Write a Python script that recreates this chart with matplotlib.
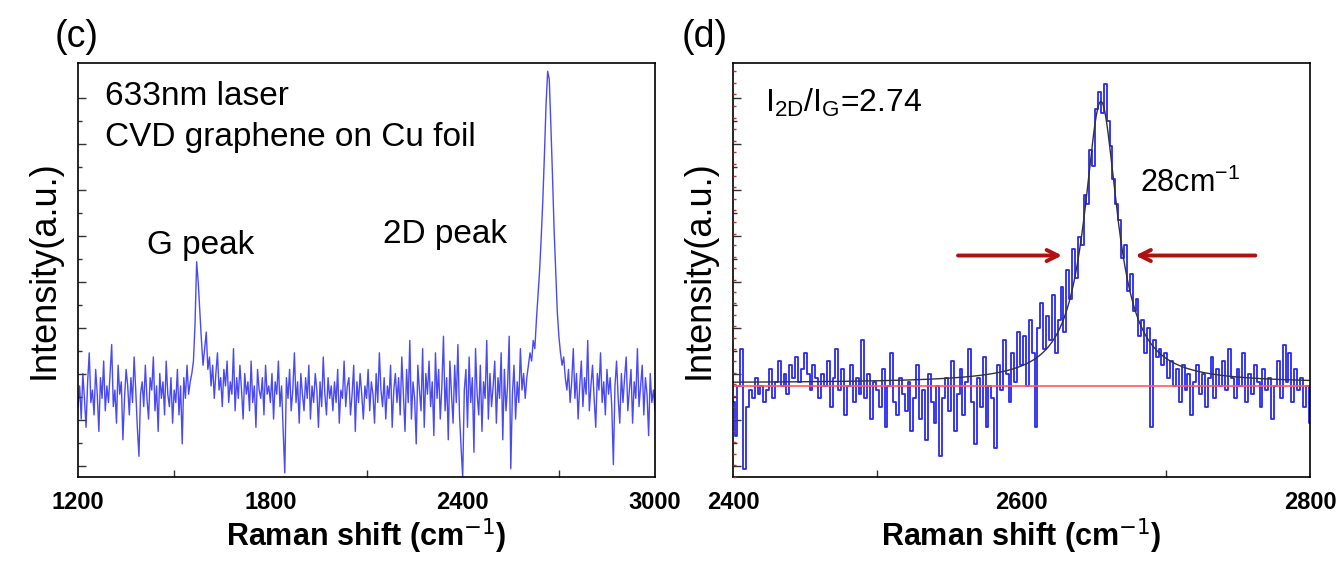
import numpy as np
import matplotlib.pyplot as plt
from matplotlib.ticker import FixedLocator, NullFormatter

plt.rcParams["font.family"] = ["Liberation Sans", "DejaVu Sans"]

# (c) full spectrum, 1200-3000 cm-1, 5 cm-1 step (arbitrary units, 0-100)
c_start, c_step = 1200, 5
c_int = [
    17, 22, 14, 25, 19, 12, 23, 30, 18, 21, 15, 26, 20, 11, 24, 19, 28, 16, 22, 18,
    25, 32, 17, 21, 13, 27, 20, 23, 9, 19, 26, 22, 15, 24, 18, 29, 21, 12, 5, 20,
    23, 17, 27, 19, 14, 24, 21, 29, 16, 22, 11, 25, 19, 23, 15, 28, 20, 17, 24, 13,
    21, 18, 26, 15, 22, 8, 24, 19, 27, 20, 23, 25, 28, 37, 52, 47, 40, 33, 27, 31,
    35, 26, 29, 22, 27, 19, 25, 30, 21, 24, 17, 26, 22, 28, 18, 23, 20, 31, 16, 24,
    19, 27, 21, 14, 25, 20, 23, 16, 28, 18, 22, 12, 26, 21, 19, 24, 15, 27, 20, 22,
    18, 25, 14, 23, 20, 28, 17, 22, 11, 1, 24, 19, 26, 16, 21, 30, 18, 23, 13, 25,
    20, 16, 24, 19, 27, 14, 22, 18, 25, 21, 12, 23, 17, 29, 20, 15, 24, 19, 22, 16,
    23, 18, 26, 13, 21, 19, 28, 17, 22, 24, 15, 20, 27, 11, 23, 18, 25, 20, 14, 22,
    19, 26, 16, 23, 20, 13, 25, 18, 30, 21, 17, 24, 14, 22, 19, 27, 12, 21, 25, 18,
    24, 15, 29, 20, 11, 26, 18, 33, 14, 23, 19, 8, 27, 21, 16, 31, 12, 25, 20, 28,
    17, 23, 10, 30, 19, 26, 14, 22, 34, 16, 24, 9, 28, 20, 13, 27, 18, 32, 15, 7,
    0, 21, 26, 12, 29, 18, 24, 6, 31, 20, 15, 27, 11, 23, 19, 33, 14, 25, 17, 22,
    28, 13, 24, 19, 30, 9, 26, 16, 22, 34, 2, 20, 27, 14, 23, 18, 31, 21, 25, 19,
    24, 27, 30, 28, 33, 31, 38, 44, 50, 58, 67, 78, 90, 98, 96, 85, 73, 60, 50, 40,
    34, 30, 27, 29, 24, 21, 26, 18, 23, 31, 19, 25, 14, 22, 28, 17, 24, 20, 33, 16,
    22, 27, 19, 12, 25, 21, 30, 18, 23, 15, 26, 20, 24, 17, 3, 22, 28, 19, 13, 25,
    18, 24, 29, 16, 21, 26, 13, 23, 19, 31, 17, 22, 27, 15, 24, 20, 10, 25, 18, 21,
    16,
]

# (d) 2D band region, 2400-2800 cm-1, 2 cm-1 step
d_start, d_step = 2400, 2
d_int = [
    18, 10, 22, 31, 2, 17, 21, 19, 24, 20,
    22, 18, 21, 26, 19, 23, 28, 22, 25, 20,
    27, 24, 29, 23, 26, 30, 25, 21, 27, 24,
    19, 25, 22, 28, 17, 24, 31, 21, 26, 15,
    22, 27, 18, 24, 20, 33, 19, 25, 14, 23,
    21, 17, 26, 12, 22, 30, 18, 15, 24, 20,
    16, 23, 11, 19, 27, 14, 21, 9, 25, 18,
    13, 22, 5, 19, 24, 16, 28, 11, 20, 26,
    15, 23, 31, 18, 8, 24, 17, 29, 12, 22,
    19, 7, 27, 21, 33, 25, 18, 30, 23, 35,
    27, 34, 22, 38, 30, 12, 36, 42, 31, 39,
    33, 44, 30, 38, 46, 35, 50, 43, 55, 48,
    58, 56, 68, 66, 79, 75, 89, 93, 88, 95,
    86, 80, 72, 66, 62, 53, 56, 45, 49, 40,
    43, 34, 38, 30, 36, 12, 33, 29, 31, 27,
    30, 24, 28, 22, 26, 18, 27, 21, 25, 15,
    23, 27, 20, 25, 17, 24, 29, 19, 26, 22,
    28, 21, 31, 24, 19, 26, 22, 30, 18, 25,
    20, 27, 23, 17, 26, 21, 24, 14, 22, 28,
    19, 32, 23, 30, 18, 26, 21, 24, 17, 22,
    13,
]

# Lorentzian fit of the 2D band
fit_center = 2655
fit_fwhm = 28
fit_amp = 68
fit_base = 22.7
red_base = 22

c_x = c_start + c_step * np.arange(len(c_int))
d_x = d_start + d_step * np.arange(len(d_int))

fig = plt.figure(figsize=(13.36, 5.67), dpi=100)
ax1 = fig.add_axes([0.0584, 0.1587, 0.4319, 0.7302])
ax2 = fig.add_axes([0.5487, 0.1587, 0.4319, 0.7302])

blue = "#2a2af0"

ax1.plot(c_x, c_int, color=blue, lw=1.0, alpha=0.85)
ax2.plot(d_x, d_int, color=blue, lw=1.3, drawstyle="steps-mid")

xf = np.linspace(2400, 2800, 800)
fit = fit_base + fit_amp / (1 + ((xf - fit_center) / (fit_fwhm / 2)) ** 2)
ax2.axhline(red_base, color="#ff5a5a", lw=1.2)
ax2.plot(xf, fit, color="#333333", lw=1.0)

ytick_major = np.arange(2.7, 100, 11.1)
ytick_minor = ytick_major[:-1] + 5.55

for ax in (ax1, ax2):
    ax.set_ylim(0, 100)
    ax.yaxis.set_major_locator(FixedLocator(ytick_major))
    ax.yaxis.set_minor_locator(FixedLocator(ytick_minor))
    ax.yaxis.set_major_formatter(NullFormatter())
    ax.tick_params(axis="both", which="both", direction="in", color="#333333")
    ax.tick_params(axis="y", which="major", length=6, width=1)
    ax.tick_params(axis="y", which="minor", length=3, width=1)
    ax.tick_params(axis="x", which="major", length=0, pad=10, labelsize=17)
    ax.tick_params(axis="x", which="minor", length=5, width=1)
    for s in ax.spines.values():
        s.set_linewidth(1.2)
    ax.set_xlabel("Raman shift (cm$^{-1}$)", fontsize=22, fontweight="bold", labelpad=2)
    ax.set_ylabel("Intensity(a.u.)", fontsize=26, labelpad=8)

ax1.set_xlim(1200, 3000)
ax1.set_xticks([1200, 1800, 2400, 3000])
ax1.set_xticks([1500, 2100, 2700], minor=True)
ax2.set_xlim(2400, 2800)
ax2.set_xticks([2400, 2600, 2800])
ax2.set_xticks([2500, 2700], minor=True)
for ax in (ax1, ax2):
    for lab in ax.get_xticklabels():
        lab.set_fontweight("bold")

# dense red marks along the left spine of (d)
ax2r = ax2.twinx()
ax2r.set_ylim(0, 100)
ax2r.yaxis.tick_left()
ax2r.set_yticks(np.arange(0, 100, 2.8))
ax2r.yaxis.set_major_formatter(NullFormatter())
ax2r.tick_params(axis="y", direction="in", length=2, width=1, color="#c03030")
ax2r.set_ylim(0, 100)
for s in ax2r.spines.values():
    s.set_visible(False)

ax1.text(0.047, 0.918, "633nm laser", transform=ax1.transAxes, fontsize=24, va="center")
ax1.text(0.047, 0.821, "CVD graphene on Cu foil", transform=ax1.transAxes, fontsize=24, va="center")
ax1.text(1581, 56, "G peak", fontsize=24, ha="center", va="center")
ax1.text(2345, 58.5, "2D peak", fontsize=24, ha="center", va="center")

ax2.text(0.055, 0.905, "I$_{\\mathregular{2D}}$/I$_{\\mathregular{G}}$=2.74", transform=ax2.transAxes,
         fontsize=23, va="center")
ax2.text(2682, 71, "28cm$^{\\mathregular{-1}}$", fontsize=22, va="center")
ax2.annotate("", xy=(2630, 53.5), xytext=(2554, 53.5),
             arrowprops=dict(arrowstyle="->,head_length=0.8,head_width=0.4", color="#b01010", lw=2.8))
ax2.annotate("", xy=(2677, 53.5), xytext=(2764, 53.5),
             arrowprops=dict(arrowstyle="->,head_length=0.8,head_width=0.4", color="#b01010", lw=2.8))

fig.text(0.041, 0.935, "(c)", fontsize=27, va="center")
fig.text(0.510, 0.935, "(d)", fontsize=27, va="center")

fig.savefig("out.png", dpi=100)
